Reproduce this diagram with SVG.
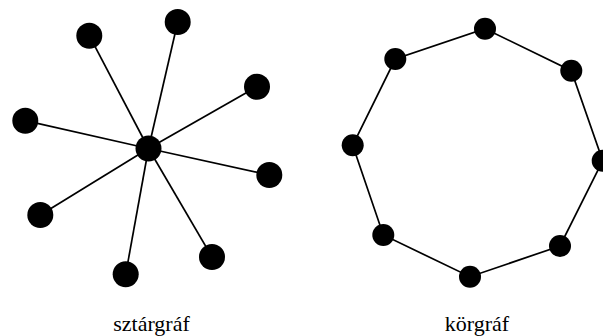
<svg xmlns="http://www.w3.org/2000/svg" width="603" height="336" viewBox="0 0 603 336">
<style>
.e{stroke:#000;stroke-width:1.7;fill:none}
.n{fill:#000}
.l{font-family:"Liberation Serif","Times New Roman",serif;font-size:22px;fill:#000;text-anchor:middle}
</style>
<rect width="603" height="336" fill="#fff"/>
<g id="connectors">
<line class="e" x1="148.5" y1="148.5" x2="89.3" y2="35.7"/>
<line class="e" x1="148.5" y1="148.5" x2="177.7" y2="22"/>
<line class="e" x1="148.5" y1="148.5" x2="257" y2="86.7"/>
<line class="e" x1="148.5" y1="148.5" x2="25.3" y2="120.7"/>
<line class="e" x1="148.5" y1="148.5" x2="269.3" y2="175"/>
<line class="e" x1="148.5" y1="148.5" x2="40.3" y2="215"/>
<line class="e" x1="148.5" y1="148.5" x2="212" y2="257"/>
<line class="e" x1="148.5" y1="148.5" x2="125.7" y2="274.3"/>
<polygon class="e" points="485,28.7 571.3,70.7 602.7,160.7 560,246 470,276.7 383.3,235 352.7,145.3 395.3,59"/>
</g>
<g id="star-center"><circle class="n" cx="148.5" cy="148.5" r="13"/></g>
<g id="star-1"><circle class="n" cx="89.3" cy="35.7" r="13"/></g>
<g id="star-2"><circle class="n" cx="177.7" cy="22" r="13"/></g>
<g id="star-3"><circle class="n" cx="257" cy="86.7" r="13"/></g>
<g id="star-4"><circle class="n" cx="25.3" cy="120.7" r="13"/></g>
<g id="star-5"><circle class="n" cx="269.3" cy="175" r="13"/></g>
<g id="star-6"><circle class="n" cx="40.3" cy="215" r="13"/></g>
<g id="star-7"><circle class="n" cx="212" cy="257" r="13"/></g>
<g id="star-8"><circle class="n" cx="125.7" cy="274.3" r="13"/></g>
<g id="ring-1"><circle class="n" cx="485" cy="28.7" r="11"/></g>
<g id="ring-2"><circle class="n" cx="571.3" cy="70.7" r="11"/></g>
<g id="ring-3"><circle class="n" cx="602.7" cy="160.7" r="11"/></g>
<g id="ring-4"><circle class="n" cx="560" cy="246" r="11"/></g>
<g id="ring-5"><circle class="n" cx="470" cy="276.7" r="11"/></g>
<g id="ring-6"><circle class="n" cx="383.3" cy="235" r="11"/></g>
<g id="ring-7"><circle class="n" cx="352.7" cy="145.3" r="11"/></g>
<g id="ring-8"><circle class="n" cx="395.3" cy="59" r="11"/></g>
<g id="label-star"><text class="l" x="151.5" y="331">sztárgráf</text></g>
<g id="label-ring"><text class="l" x="477" y="331">körgráf</text></g>
</svg>
